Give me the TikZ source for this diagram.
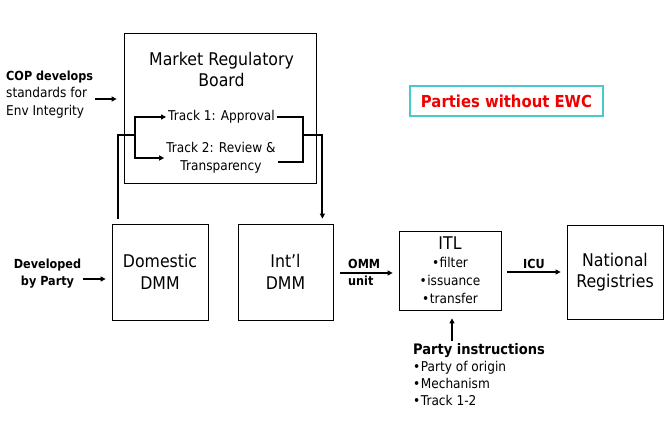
\documentclass[tikz,border=0pt]{standalone}
\usepackage{fontspec}
\setmainfont{DejaVu Sans}[FakeStretch=0.9]
\usepackage{tikz}
\usetikzlibrary{arrows.meta,positioning,calc}
\definecolor{ewcRed}{RGB}{240,0,0}
\definecolor{ewcCyan}{RGB}{75,200,205}
\newcommand{\bigtxt}{\fontsize{17.5pt}{21.5pt}\selectfont}
\newcommand{\midtxt}{\fontsize{13.5pt}{18pt}\selectfont}
\newcommand{\lbltxt}{\fontsize{13.5pt}{17.5pt}\selectfont}
\newcommand{\boldlbl}{\fontsize{12.5pt}{17pt}\selectfont\bfseries}
\newcommand{\pitxt}{\fontsize{13.5pt}{17pt}\selectfont}
\newcommand{\ewctxt}{\fontsize{16.5pt}{20pt}\selectfont}
\newcommand{\bul}{\textbullet\kern0.5pt}

\begin{document}
\begin{tikzpicture}[x=1pt, y=-1pt, >={Triangle[length=5pt,width=5pt]},
  bx/.style={rectangle, draw, line width=0.8pt, inner sep=0},
  br/.style={line width=2pt},
  ar/.style={line width=1.2pt},
  txt/.style={inner sep=2pt, align=center}]
  \useasboundingbox (0,0) rectangle (669,444);
  % market regulatory board
  \node[bx, minimum width=192pt, minimum height=150pt] (mrb) at (220,108) {};
  \node[txt, font=\bigtxt] (mrbt) at (221.5,69.5) {Market Regulatory\\Board};
  \node[txt, font=\midtxt] (t1) at (221.5,117) {Track 1: Approval};
  \node[txt, font=\midtxt] (t2) at (221,158) {Track 2: Review \&\\Transparency};
  \node[draw=ewcCyan, line width=1.5pt, minimum width=193pt, minimum height=30pt,
    text=ewcRed, font=\ewctxt\bfseries] (ewc) at (506.5,101) {Parties without EWC};
  % mechanism boxes
  \node[bx, minimum width=96pt, minimum height=96pt, font=\bigtxt, align=center]
    (dom) at (160,272) {Domestic\\DMM};
  \node[bx, minimum width=95pt, minimum height=96pt, font=\bigtxt, align=center]
    (intl) at (285.5,272) {Int’l\\DMM};
  \node[bx, minimum width=102pt, minimum height=79pt, font=\midtxt, align=center]
    (itl) at (450,270.5) {{\bigtxt ITL}\\\bul filter\\\bul issuance\\\bul transfer};
  \node[bx, minimum width=96pt, minimum height=94pt, font=\bigtxt, align=center]
    (nat) at (615,272) {National\\Registries};
  % side labels
  \node[txt, font=\lbltxt, align=left, anchor=west] (cop) at (4,94.5)
    {{\boldlbl COP develops}\\standards for\\Env Integrity};
  \node[txt, font=\boldlbl] (dev) at (47.5,273.5) {Developed\\by Party};
  \node[txt, font=\boldlbl, align=left, anchor=west] (omm) at (346,272.5) {OMM\\unit};
  \node[txt, font=\pitxt, align=left, anchor=north west] (pi) at (411,341)
    {{\bfseries\fontsize{14.5pt}{18pt}\selectfont Party instructions}\\\bul Party of origin\\\bul Mechanism\\\bul Track 1-2};
  % tracks
  \coordinate (lb) at (135,135);
  \coordinate (rb) at (303,135);
  \coordinate (copa) at (95,99);
  \draw[br,->] (lb) |- (t1.west);
  \draw[br,->] (lb) |- (t2.west);
  \draw[br] (t1.east) -| (rb) |- ([yshift=-4pt]t2.east);
  \draw[br, shorten <=5pt] ([xshift=6pt]dom.north west) |- (lb);
  \draw[br,->, shorten >=5pt] (rb) -| ([xshift=-11pt]intl.north east);
  % flows
  \draw[ar,->, shorten >=7pt] (copa) -- (copa -| mrb.west);
  \draw[ar,->, shorten >=6pt] ([yshift=-5.5pt]dev.east) -- ([yshift=-5.5pt]dev.east -| dom.west);
  \draw[ar,->, shorten <=7pt, shorten >=6pt] ([yshift=-1pt]intl.east) -- ([yshift=-1pt]intl.east -| itl.west);
  \draw[ar,->, shorten <=6pt, shorten >=6pt] ([yshift=-1.5pt]itl.east)
    -- node[above, font=\boldlbl, inner sep=3pt] (icu) {ICU} ([yshift=-1.5pt]itl.east -| nat.west);
  \draw[ar,->, shorten >=8pt] ([xshift=2pt]itl.south |- pi.north) -- ([xshift=2pt]itl.south);
\end{tikzpicture}
\end{document}
